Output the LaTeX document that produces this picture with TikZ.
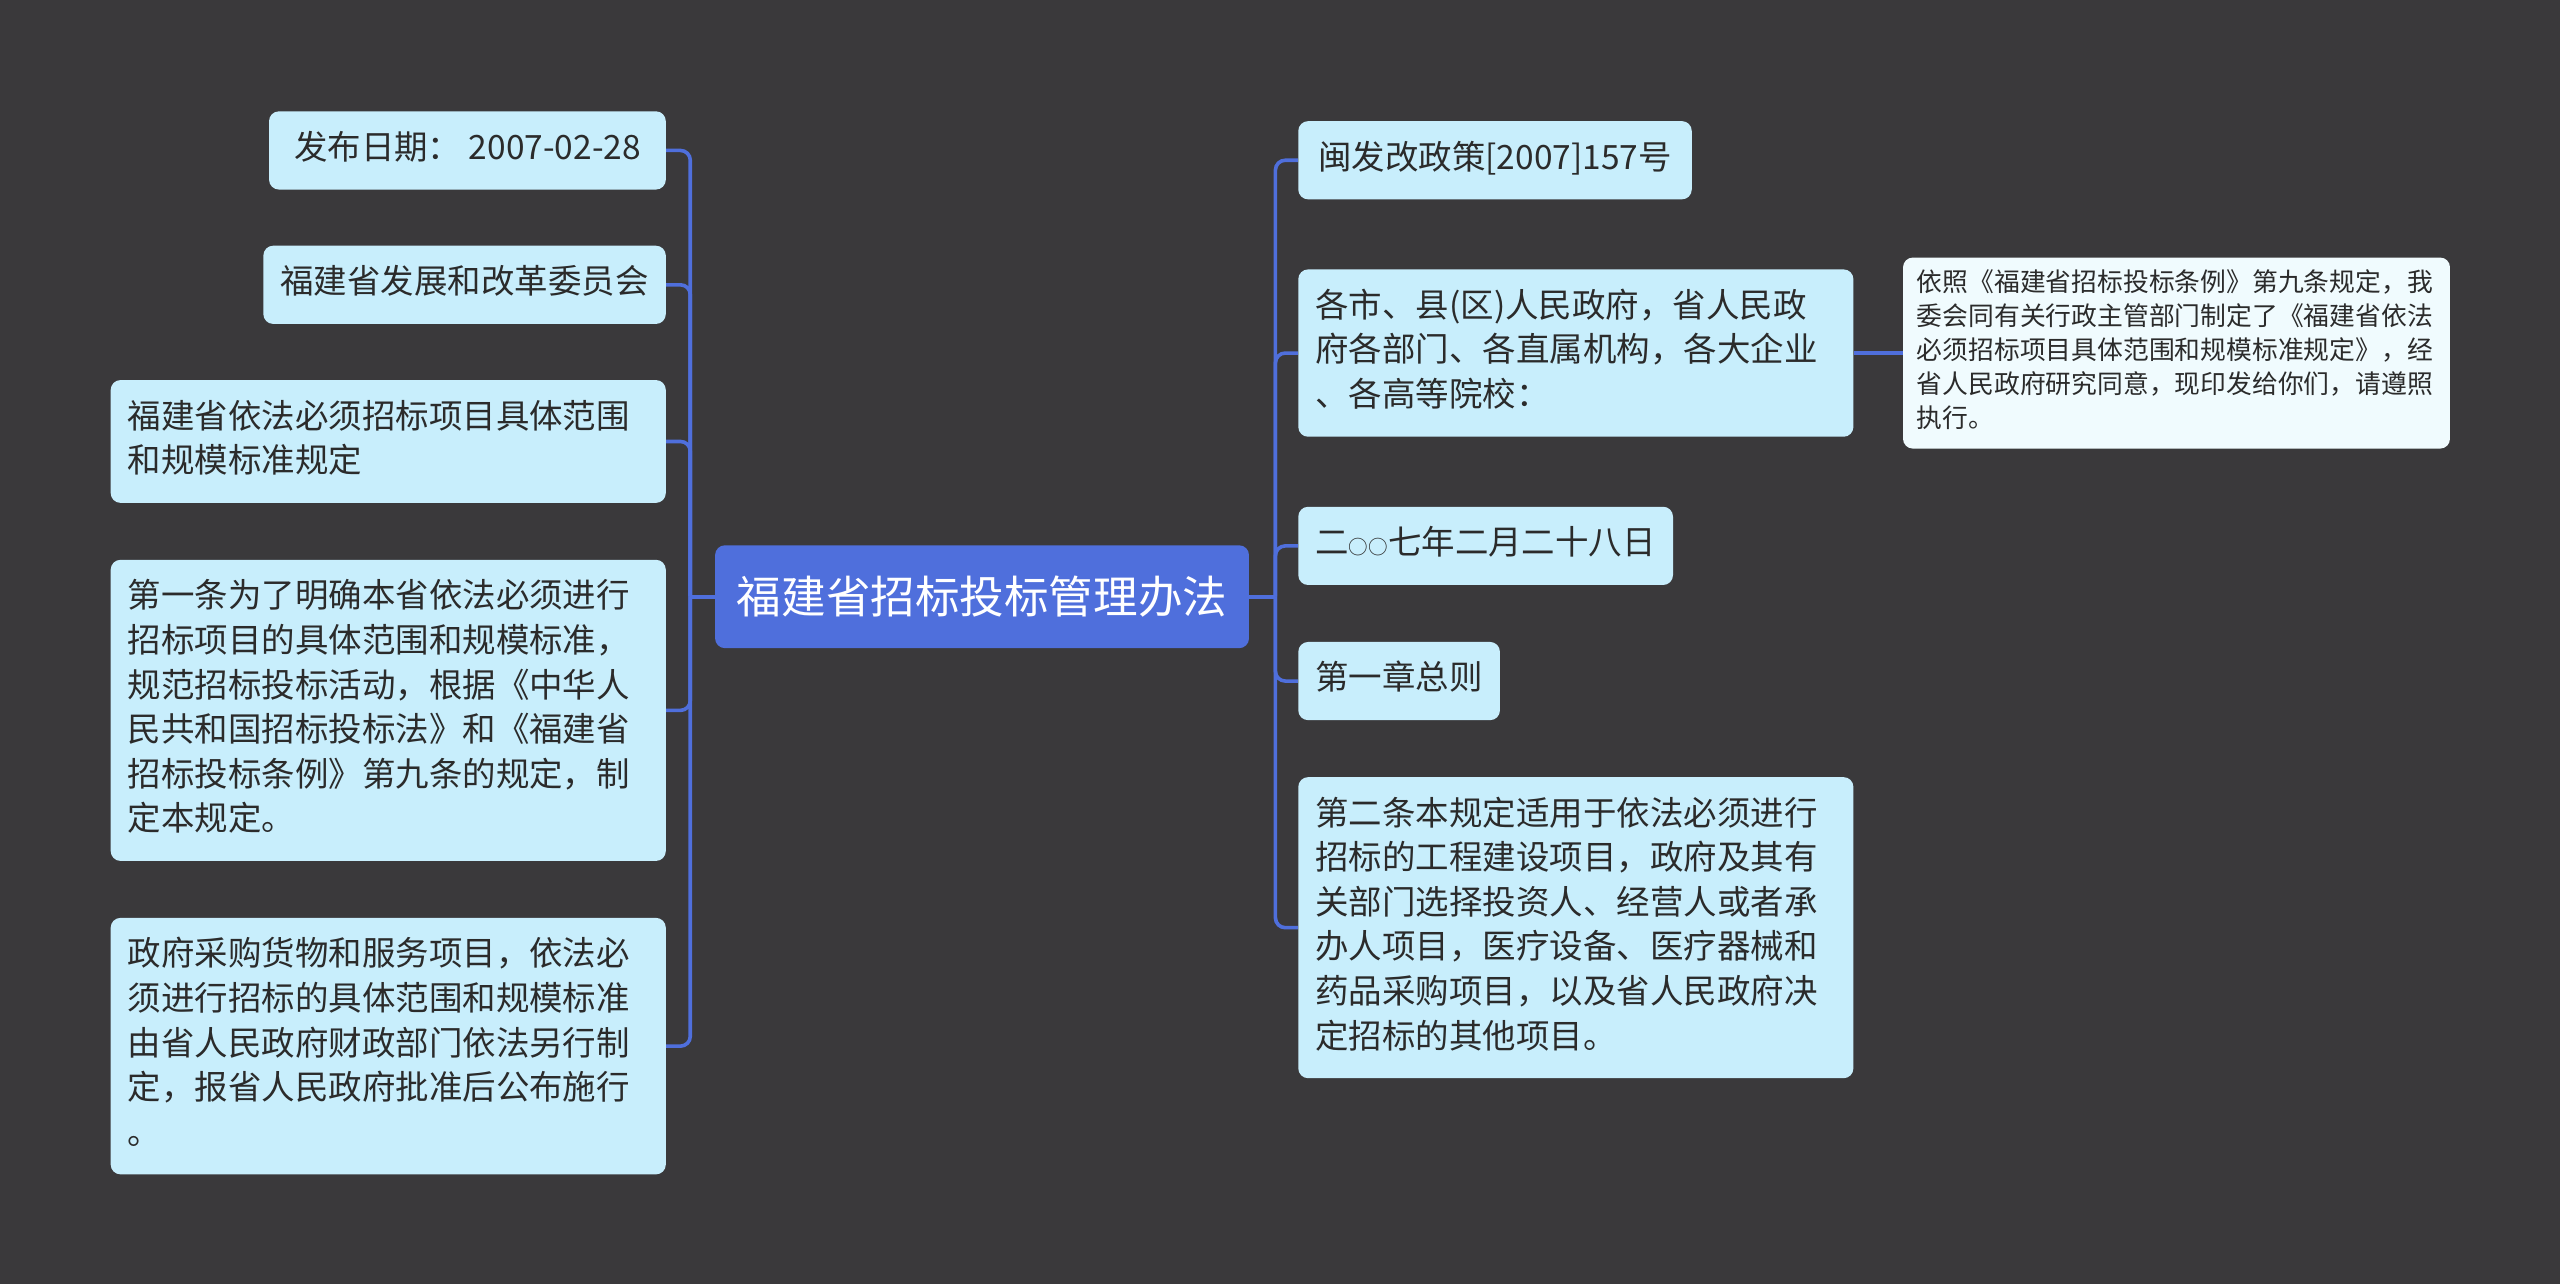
\documentclass[tikz,border=0pt]{standalone}
\usepackage{fontspec}
\newfontfamily\cjk{Noto Sans CJK SC}
\usetikzlibrary{positioning}
\definecolor{MapBg}{HTML}{3A393B}
\definecolor{MapBlue}{HTML}{4F6FDC}
\definecolor{MapCyan}{HTML}{C8EEFC}
\definecolor{MapPale}{HTML}{F0FBFE}
\definecolor{MapText}{HTML}{2B2B2B}
\newcommand{\smallring}{{\fontsize{12pt}{12pt}\selectfont ○}}
\tikzset{
  rootbox/.style={fill=MapBlue, rounded corners=6pt, text=white,
                  font=\cjk\fontsize{27.3pt}{32pt}\selectfont,
                  minimum width=327pt, minimum height=63pt, inner sep=0pt},
  topicbox/.style={fill=MapCyan, rounded corners=6pt, text=MapText,
                   font=\cjk\fontsize{20.5pt}{27.3pt}\selectfont,
                   inner xsep=10.5pt, inner ysep=10.3pt,
                   execute at begin node=\strut, execute at end node=\strut},
  widebox/.style={topicbox, text width=319pt, align=left},
  notebox/.style={fill=MapPale, rounded corners=6pt, text=MapText,
                  font=\cjk\fontsize{15.8pt}{20.8pt}\selectfont,
                  text width=318pt, align=left, inner xsep=8.5pt, inner ysep=6.5pt,
                  execute at begin node=\strut, execute at end node=\strut},
  link/.style={draw=MapBlue, line width=2.2pt, rounded corners=6pt},
}

\begin{document}
\begin{tikzpicture}[x=1pt, y=1pt, node distance=34pt]

  \fill[MapBg] (0,0) rectangle (1568,-786.45);
  \useasboundingbox (0,0) rectangle (1568,-786.45);

  \node[rootbox] (root) at (601.5,-365.5) {福建省招标投标管理办法};

  % left side, stacked from the top
  \node[topicbox, minimum width=243pt, anchor=north east] (date) at (408,-68)
       {发布日期： 2007-02-28};
  \node[topicbox, below=34pt of date.south east, anchor=north east] (issuer)
       {福建省发展和改革委员会};
  \node[widebox, below=34pt of issuer.south east, anchor=north east] (scope)
       {福建省依法必须招标项目具体范围\\和规模标准规定};
  \node[widebox, below=34.5pt of scope.south east, anchor=north east] (article1)
       {第一条为了明确本省依法必须进行\\招标项目的具体范围和规模标准，\\规范招标投标活动，根据《中华人\\民共和国招标投标法》和《福建省\\招标投标条例》第九条的规定，制\\定本规定。};
  \node[widebox, below=34.5pt of article1.south east, anchor=north east] (procure)
       {政府采购货物和服务项目，依法必\\须进行招标的具体范围和规模标准\\由省人民政府财政部门依法另行制\\定，报省人民政府批准后公布施行\\。};

  % right side
  \node[topicbox, minimum width=241pt, anchor=north west] (docno) at (795,-74)
       {闽发改政策[2007]157号};
  \node[widebox, below=42.5pt of docno.south west, anchor=north west] (addressee)
       {各市、县(区)人民政府，省人民政\\府各部门、各直属机构，各大企业\\、各高等院校：};
  \node[notebox, right=30pt of addressee] (notice)
       {依照《福建省招标投标条例》第九条规定，我\\委会同有关行政主管部门制定了《福建省依法\\必须招标项目具体范围和规模标准规定》，经\\省人民政府研究同意，现印发给你们，请遵照\\执行。};
  \node[topicbox, below=42.5pt of addressee.south west, anchor=north west] (signdate)
       {二\smallring\smallring 七年二月二十八日};
  \node[topicbox, below=34.5pt of signdate.south west, anchor=north west] (chapter)
       {第一章总则};
  \node[widebox, below=34.5pt of chapter.south west, anchor=north west] (article2)
       {第二条本规定适用于依法必须进行\\招标的工程建设项目，政府及其有\\关部门选择投资人、经营人或者承\\办人项目，医疗设备、医疗器械和\\药品采购项目，以及省人民政府决\\定招标的其他项目。};

  \coordinate[left=15pt of root] (lhub);
  \coordinate[right=16pt of root] (rhub);

  \draw[link] (root.west) -- (lhub);
  \foreach \leaf in {date,issuer,scope,article1,procure}
    \draw[link] (lhub) |- (\leaf.east);
  \draw[link] (root.east) -- (rhub);
  \foreach \leaf in {docno,addressee,signdate,chapter,article2}
    \draw[link] (rhub) |- (\leaf.west);
  \draw[link] (addressee) -- (notice);

\end{tikzpicture}
\end{document}
